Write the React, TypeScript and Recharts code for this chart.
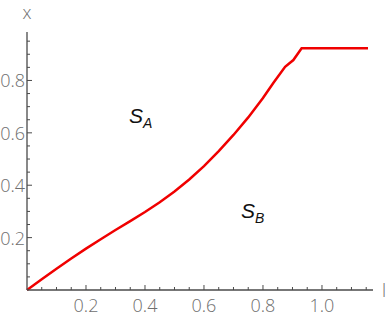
import { LineChart, Line, XAxis, YAxis } from "recharts";

// values
const lValues = [0, 0.05, 0.1, 0.15, 0.2, 0.25, 0.3, 0.35, 0.4, 0.45, 0.5, 0.55, 0.6, 0.65, 0.7, 0.75, 0.8, 0.835, 0.875, 0.903, 0.931, 1.156];
const xValues = [0, 0.041, 0.081, 0.12, 0.158, 0.194, 0.229, 0.263, 0.298, 0.335, 0.376, 0.422, 0.473, 0.53, 0.592, 0.659, 0.733, 0.79, 0.852, 0.878, 0.923, 0.923];

const xTicks = [0.05, 0.1, 0.15, 0.2, 0.25, 0.3, 0.35, 0.4, 0.45, 0.5, 0.55, 0.6, 0.65, 0.7, 0.75, 0.8, 0.85, 0.9, 0.95, 1.0, 1.05, 1.1, 1.15];
const yTicks = [0.05, 0.1, 0.15, 0.2, 0.25, 0.3, 0.35, 0.4, 0.45, 0.5, 0.55, 0.6, 0.65, 0.7, 0.75, 0.8, 0.85, 0.9, 0.95];
const majorTicks = [0.2, 0.4, 0.6, 0.8, 1.0];

const data = lValues.map((l, i) => ({ l, x: xValues[i] }));

const tickFont = "'Open Sans', sans-serif";
const tickColor = "#6e6e6e";
const axisColor = "#4a4a4a";

const isMajor = (v: number) => majorTicks.some((m) => Math.abs(m - v) < 1e-6);

function XTick(props: any) {
  const { x, y, payload } = props;
  const major = isMajor(payload.value);
  return (
    <g>
      <line x1={x} x2={x} y1={y} y2={y - (major ? 5 : 3)} stroke={axisColor} strokeWidth={1} />
      {major && (
        <text x={x} y={y + 22} textAnchor="middle" fill={tickColor} fontSize={18} fontFamily={tickFont} fontWeight={300}>
          {payload.value.toFixed(1)}
        </text>
      )}
    </g>
  );
}

function YTick(props: any) {
  const { x, y, payload } = props;
  const major = isMajor(payload.value);
  return (
    <g>
      <line x1={x} x2={x + (major ? 5 : 3)} y1={y} y2={y} stroke={axisColor} strokeWidth={1} />
      {major && (
        <text x={x - 2} y={y + 7} textAnchor="end" fill={tickColor} fontSize={18} fontFamily={tickFont} fontWeight={300}>
          {payload.value.toFixed(1)}
        </text>
      )}
    </g>
  );
}

const regionLabel: React.CSSProperties = {
  position: "absolute",
  fontFamily: "'Liberation Sans', Arial, sans-serif",
  fontStyle: "italic",
  fontSize: 21,
  color: "#111",
  lineHeight: 1,
};

export default function App() {
  return (
    <div style={{ position: "absolute", left: 0, top: 0, width: 388, height: 319, background: "#fff" }}>
      <LineChart width={388} height={319} data={data} margin={{ top: 32, right: 15, left: 0, bottom: 0 }}>
        <XAxis
          type="number"
          dataKey="l"
          domain={[0, 1.173]}
          ticks={xTicks}
          tick={<XTick />}
          tickLine={false}
          tickSize={0}
          tickMargin={0}
          height={29}
          axisLine={{ stroke: axisColor, strokeWidth: 1.3 }}
          interval={0}
        />
        <YAxis
          type="number"
          domain={[0, 0.985]}
          ticks={yTicks}
          tick={<YTick />}
          tickLine={false}
          tickSize={0}
          tickMargin={0}
          width={27}
          axisLine={{ stroke: axisColor, strokeWidth: 1.3 }}
          interval={0}
        />
        <Line
          type="linear"
          dataKey="x"
          stroke="#f00000"
          strokeWidth={2.5}
          dot={false}
          isAnimationActive={false}
        />
        <text x={27} y={19} textAnchor="middle" fill={tickColor} fontSize={18} fontFamily={tickFont} fontWeight={300}>
          x
        </text>
        <text x={384} y={297} textAnchor="middle" fill={tickColor} fontSize={18} fontFamily={tickFont} fontWeight={300}>
          l
        </text>
      </LineChart>
      <div style={{ ...regionLabel, left: 129, top: 105 }}>
        S<sub style={{ fontSize: 14, verticalAlign: "-5px" }}>A</sub>
      </div>
      <div style={{ ...regionLabel, left: 241, top: 200 }}>
        S<sub style={{ fontSize: 14, verticalAlign: "-5px" }}>B</sub>
      </div>
    </div>
  );
}
